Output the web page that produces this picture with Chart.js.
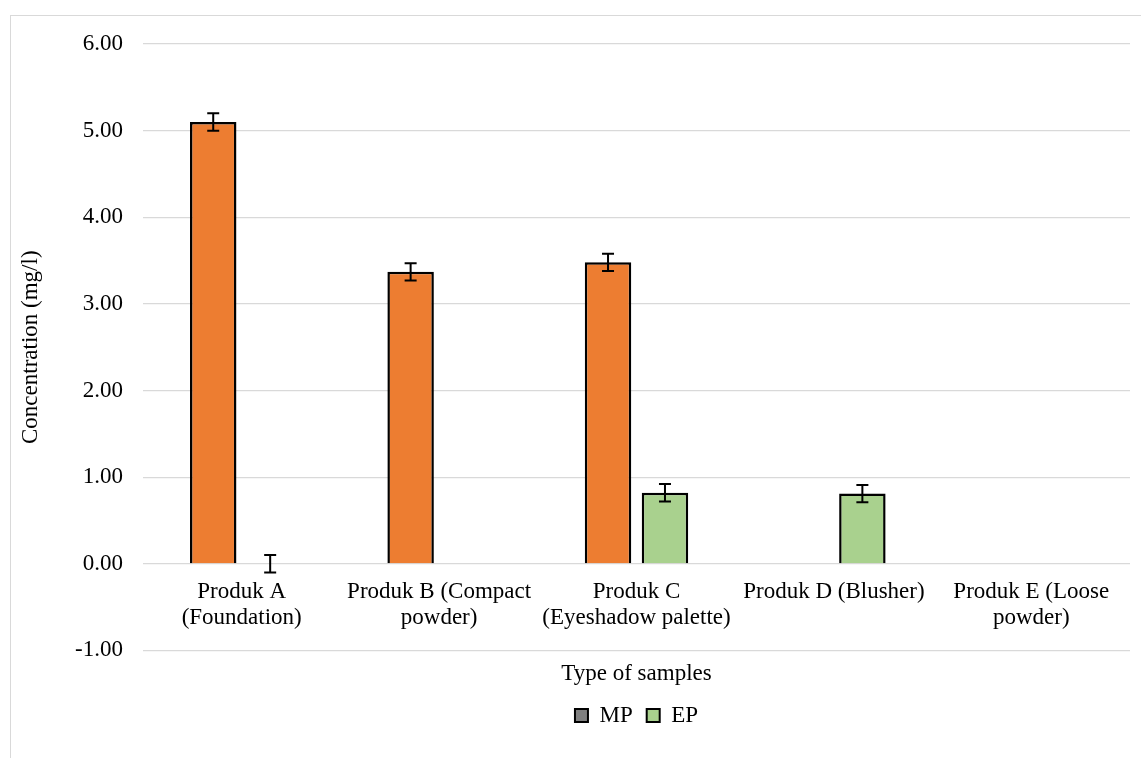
<!DOCTYPE html>
<html>
<head>
<meta charset="utf-8">
<script src="https://cdn.jsdelivr.net/npm/chart.js@4.4.1/dist/chart.umd.min.js"></script>
<style>
  html, body { margin: 0; padding: 0; background: #fff; }
  #wrap {
    position: absolute; left: 10px; top: 15px;
    width: 1130px; height: 742px;
    border-left: 1px solid #d9d9d9; border-top: 1px solid #d9d9d9;
  }
</style>
</head>
<body>
<div id="wrap"><canvas id="concChart"></canvas></div>
<script>
// data
const categories = [
    ['Produk A', '(Foundation)'],
    ['Produk B (Compact', 'powder)'],
    ['Produk C', '(Eyeshadow palette)'],
    'Produk D (Blusher)',
    ['Produk E (Loose', 'powder)']
];
const seriesNames = ['MP', 'EP'];
const mpValues = [5.10, 3.37, 3.48, null, null];
const mpErrors = [0.10, 0.10, 0.10, null, null];
const epValues = [0.00, null, 0.82, 0.81, null];
const epErrors = [0.10, null, 0.10, 0.10, null];
const yTicks = [-1, 0, 1, 2, 3, 4, 5, 6];

const barColors = ['#ED7D31', '#A9D18E'];
const legendColors = ['#808080', '#A9D18E'];
const FONT = "'Liberation Serif', 'Times New Roman', serif";

// simple error bar drawing
const errorBars = {
    id: 'errorBars',
    afterDatasetsDraw(chart) {
        const ctx = chart.ctx;
        const yScale = chart.scales.y;
        chart.data.datasets.forEach((ds, i) => {
            const meta = chart.getDatasetMeta(i);
            meta.data.forEach((bar, j) => {
                const v = ds.data[j], e = ds.errors[j];
                if (v === null || e === null) return;
                const yTop = yScale.getPixelForValue(v + e);
                const yBot = yScale.getPixelForValue(v - e);
                const x = bar.x, cap = 6;
                ctx.save();
                ctx.strokeStyle = '#000';
                ctx.lineWidth = 2;
                ctx.beginPath();
                ctx.moveTo(x, yTop); ctx.lineTo(x, yBot);
                ctx.moveTo(x - cap, yTop); ctx.lineTo(x + cap, yTop);
                ctx.moveTo(x - cap, yBot); ctx.lineTo(x + cap, yBot);
                ctx.stroke();
                ctx.restore();
            });
        });
    }
};

document.addEventListener('DOMContentLoaded', function() {
    Chart.defaults.font.family = FONT;
    Chart.defaults.font.size = 23;
    Chart.defaults.color = '#000';

    const ctx = document.getElementById('concChart').getContext('2d');
    new Chart(ctx, {
        type: 'bar',
        data: {
            labels: categories,
            datasets: [
                {
                    label: seriesNames[0],
                    data: mpValues,
                    errors: mpErrors,
                    backgroundColor: barColors[0],
                    borderColor: '#000',
                    borderWidth: 2.5,
                    xAxisID: 'x'
                },
                {
                    label: seriesNames[1],
                    data: epValues,
                    errors: epErrors,
                    backgroundColor: barColors[1],
                    borderColor: '#000',
                    borderWidth: 2.5,
                    xAxisID: 'x'
                }
            ]
        },
        options: {
            responsive: true,
            maintainAspectRatio: false,
            animation: false,
            categoryPercentage: 0.577,
            barPercentage: 0.816,
            layout: { padding: { top: 0, right: 11, bottom: 21, left: 0 } },
            plugins: {
                tooltip: { enabled: false },
                legend: {
                    position: 'bottom',
                    fullSize: false,
                    labels: {
                        boxWidth: 13,
                        boxHeight: 13,
                        padding: 14,
                        font: { size: 23 },
                        generateLabels(chart) {
                            const items = Chart.defaults.plugins.legend.labels.generateLabels(chart);
                            items.forEach((it, k) => {
                                it.fillStyle = legendColors[k];
                                it.strokeStyle = '#000';
                                it.lineWidth = 2;
                            });
                            return items;
                        }
                    }
                }
            },
            scales: {
                x: {
                    type: 'category',
                    position: { y: 0 },
                    grid: { display: false, drawTicks: false },
                    border: { display: false },
                    ticks: {
                        autoSkip: false,
                        maxRotation: 0,
                        padding: 16,
                        font: { size: 23, lineHeight: 1.1 }
                    }
                },
                xTitle: {
                    type: 'category',
                    position: 'bottom',
                    grid: { display: false, drawTicks: false },
                    border: { display: false },
                    ticks: { display: false },
                    title: {
                        display: true,
                        text: 'Type of samples',
                        font: { size: 23, lineHeight: 1.2 },
                        padding: { top: 10, bottom: 2 }
                    }
                },
                y: {
                    min: yTicks[0],
                    max: yTicks[yTicks.length - 1],
                    afterFit(scale) { scale.width = 132; },
                    afterBuildTicks(scale) {
                        scale.ticks = yTicks.map(v => ({ value: v }));
                    },
                    grid: { color: '#d9d9d9', lineWidth: 1.3, drawTicks: false },
                    border: { display: false },
                    ticks: {
                        padding: 20,
                        font: { size: 23, lineHeight: 0.7 },
                        callback: v => v.toFixed(2)
                    },
                    title: {
                        display: true,
                        text: 'Concentration (mg/l)',
                        font: { size: 23, lineHeight: 1.2 },
                        padding: { top: 6, bottom: 0 }
                    }
                }
            }
        },
        plugins: [errorBars]
    });
});
</script>
</body>
</html>
